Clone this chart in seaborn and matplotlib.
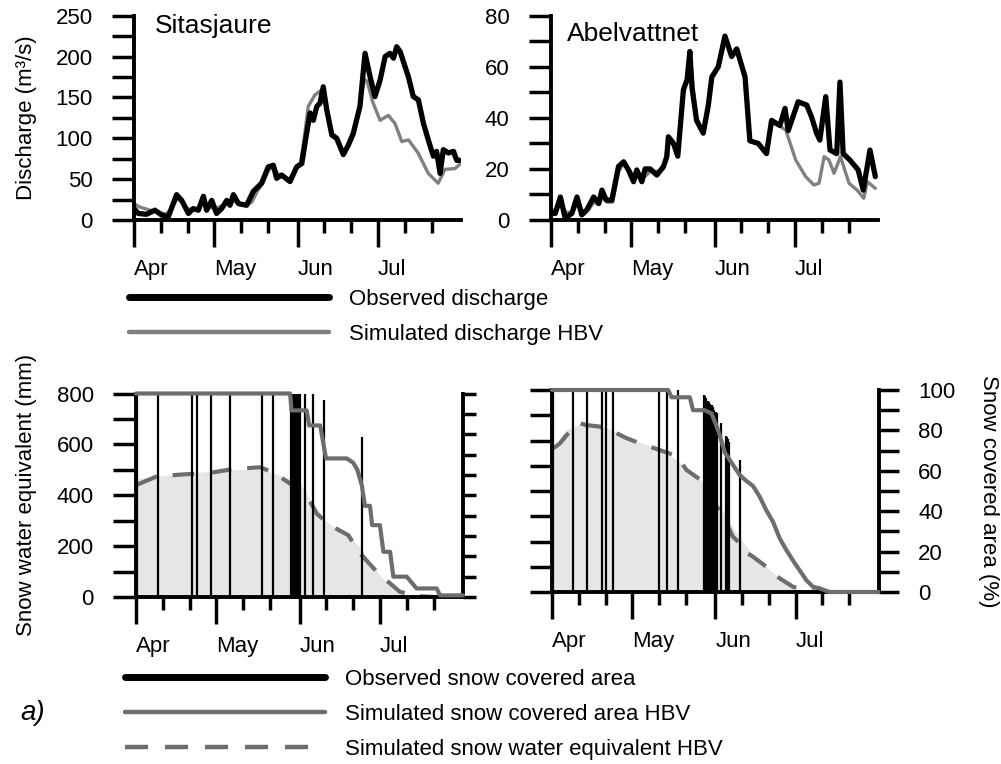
import matplotlib
matplotlib.use('Agg')
import matplotlib.pyplot as plt
import seaborn as sns
from matplotlib.lines import Line2D

# ---------------- data (days since 1 April) ----------------
month_days = [0, 30, 61, 91]
month_labels = ['Apr', 'May', 'Jun', 'Jul']
minor_days = [10, 20, 40, 50, 71, 81, 101, 111]

# Sitasjaure discharge (m3/s)
sit_obs_q_day = [0, 1.6, 4.7, 7.8, 10.3, 12.8, 15.9, 17.8, 20.3, 22.1, 24, 25.9, 27.1, 29, 30.8,
                 32.7, 34.6, 35.8, 37.1, 39, 42, 44.5, 47.6, 50.1, 52, 53.2, 55.1, 58.2, 60.7, 62.6,
                 64.4, 65.7, 66.9, 68.2, 69.4, 70.6, 71.9, 73.8, 75.6, 78.1, 80, 81.8, 84.3, 86.2,
                 88.1, 89.9, 91.8, 93.7, 95.5, 96.8, 98, 99.3, 101.1, 102.4, 104.2, 106.1, 108,
                 109.8, 111.7, 112.9, 114.2, 115.4, 117.3, 119.2, 120.4, 121.6]
sit_obs_q = [14, 8, 7, 12, 6, 4, 31, 24, 8, 14, 12, 29, 12, 24, 8,
             14, 24, 18, 31, 20, 18, 35, 45, 65, 67, 51, 55, 47, 65, 69,
             106, 131, 122, 139, 143, 163, 135, 104, 100, 80, 92, 106, 139, 204,
             175, 151, 171, 200, 204, 198, 212, 206, 188, 175, 151, 147, 118,
             98, 78, 84, 57, 86, 82, 84, 73, 73]
sit_sim_q_day = [0, 2, 4, 6, 9, 12, 14, 16, 18, 20, 22, 24, 26, 28, 30, 32, 34, 36, 38, 40,
                 42, 44, 46, 48, 50, 52, 54, 56, 58, 60, 62, 63.5, 65, 67.5, 69.5, 71, 72.5,
                 74, 76, 78, 80, 82, 84, 86, 87, 89, 91.8, 94.9, 97.4, 99.9, 102.4, 106,
                 109.8, 113.5, 116, 119.8, 121.5]
sit_sim_q = [20, 16, 14, 12, 10, 7, 14, 26, 22, 14, 12, 14, 22, 16, 14, 16, 20, 24, 22, 19,
             18, 22, 35, 45, 60, 66, 55, 52, 50, 60, 68, 100, 139, 153, 158, 150, 130,
             106, 100, 84, 90, 104, 138, 172, 170, 145, 122, 128, 118, 96, 98, 82,
             57, 45, 62, 63, 68]

# Abelvattnet discharge (m3/s)
abe_obs_q_day = [0, 1.6, 3.5, 5.3, 7.8, 9.7, 11.5, 13.4, 15.9, 17.8, 19, 20.6, 22.7, 25.2, 27.1,
                 28.9, 30.8, 32, 33.9, 35.1, 37, 39.5, 42, 43.2, 43.8, 45.7, 47.3, 49.4, 50.8,
                 51.8, 52.6, 54.3, 56.8, 58.7, 60, 62.4, 64.9, 67.4, 69.3, 72.4, 74.2, 77.3,
                 80.4, 82.3, 85.4, 87.3, 88.5, 92.2, 95.4, 97.2, 99.1, 100.3, 102.5, 104.1,
                 106.6, 107.8, 109, 111.5, 114.6, 116.5, 119, 121]
abe_obs_q = [2.6, 2.6, 9, 0.7, 2.6, 9, 2, 4, 9, 6.5, 11.7, 7.8, 7.8, 21, 22.8,
             19.6, 15, 19.6, 15, 20, 20, 17.6, 21, 24.8, 32.6, 30, 25, 51, 55,
             66, 52, 39, 34, 45, 56, 60, 72, 64, 67, 56, 31, 30,
             26, 39, 37, 43.7, 35, 46.3, 45, 40.4, 34, 31.3, 48.3, 27.4,
             26, 54, 26, 23.5, 19.6, 11.7, 27.4, 17]
abe_sim_q_day = [0, 2, 3.5, 5.5, 8, 10, 12, 14, 16, 18, 19, 21, 23, 25.2, 27.1, 29, 31, 33, 35,
                 37, 39.5, 42, 43.8, 45.7, 47.3, 49.4, 51, 52, 53, 54.3, 56.8, 58.7, 60, 62.4,
                 64.9, 67.4, 69.3, 72.4, 74.2, 77.3, 80.4, 82.3, 85, 87.6, 91.3, 95, 98.1, 100,
                 101.9, 103.7, 105.6, 108, 111.2, 114.2, 116.7, 118, 121]
abe_sim_q = [4, 4, 7, 3, 3, 7, 3, 4, 7, 6, 9, 7, 7, 19, 22, 20, 17, 18, 17,
             19, 19, 20, 30, 30, 25, 50, 56, 64, 52, 40, 34, 44, 56, 60,
             72, 65, 66, 56, 31, 30, 26, 38, 37, 35.2, 23.5, 17, 13.7, 14.4,
             24.8, 23.5, 18.3, 24.8, 14.4, 11.7, 8.5, 15, 12.4]

# Sitasjaure snow
sit_obs_sca_day = [0.3, 8.1, 21, 22.9, 27.9, 35.1, 47.1, 51.2, 57.7, 58.2, 58.7, 59.2, 59.7,
                   60.2, 60.7, 61.2, 63.1, 66.2, 70.1, 84.2]
sit_obs_sca = [100, 100, 100, 100, 100, 100, 100, 100, 100, 100, 100, 100, 100,
               100, 100, 100, 100, 100, 96.9, 78.6]
sit_sim_sca_day = [0, 57.5, 58, 63.7, 64.6, 68.7, 70.9, 78.6, 81, 82.5, 84.3, 85.4, 87.3, 88.1,
                   91, 92.3, 94.8, 96, 101, 104.7, 112.2, 113.4, 122]
sit_sim_sca = [100, 100, 91.7, 91.7, 84.3, 84.3, 68.1, 68.1, 66, 62.8, 54.6, 44.8, 44.8, 35.3,
               35.3, 22.2, 22.2, 10, 10, 4.2, 4.2, 0.8, 0.8]
sit_swe_day = [0.3, 7.7, 16.4, 22.6, 28.7, 36.3, 46.3, 51.2, 61.2, 63.7, 67.4, 72.4, 79.2, 83.6,
               90.4, 98.5, 106, 110.8, 121.6]
sit_swe = [441, 474, 481, 485, 490, 503, 510, 490, 420, 400, 328, 282, 243, 171,
           93, 20, 3, 0, 0]
sit_fill_day = [0, 8, 20, 36, 46.3, 51.2, 56, 61.2, 64.9, 71.2, 78.6, 83.6, 88.5, 93, 97.3, 101, 104]
sit_fill = [465, 475, 488, 500, 503, 487, 470, 448, 385, 295, 245, 197, 119, 60, 27, 4, 0]

# Abelvattnet snow
abe_obs_sca_day = [0.5, 7.9, 12.9, 18.8, 20.1, 22.9, 40, 42.8, 47.1, 56.7, 57.2, 57.7, 58.2,
                   58.7, 59.2, 59.7, 60.2, 60.7, 61.2, 61.7, 63.1, 64.9, 65.4, 65.9, 66.2, 70.1]
abe_obs_sca = [100, 100, 100, 100, 100, 100, 100, 100, 100, 97.5, 97, 96, 94.7,
               94, 93, 92.6, 91.5, 90, 89, 88.4, 83.5, 77.2, 76.5, 75.5, 74.4, 65.3]
abe_sim_sca_day = [0, 43.4, 44.7, 51.5, 52.7, 57.1, 59.6, 62.1, 64.6, 67.6, 70.1, 72.6, 75.1,
                   77.6, 80.1, 82.6, 85.1, 87.6, 90, 92.5, 95, 97.5, 100, 103.7, 122]
abe_sim_sca = [100, 100, 96.4, 96.4, 90, 90, 88.4, 80, 69, 63, 58, 55, 52.5,
               47.2, 40.4, 34.7, 26.5, 20.7, 15.7, 10.8, 5.9, 2.6, 1.8, 0, 0]
abe_swe_day = [0.5, 3, 5.5, 10.4, 12.9, 17.9, 22.9, 27.9, 32.8, 38.4, 46.5, 50.3, 56.5, 61.5,
               64.6, 67.6, 70.1, 72, 75.1, 80.1, 85.1, 90, 95, 100, 104]
abe_swe = [569, 589, 622, 668, 661, 655, 635, 609, 589, 569, 539, 483, 437, 338,
           285, 219, 193, 160, 140, 100, 54, 21, 5, 0, 0]
abe_fill_day = [0.5, 5, 10, 15, 20, 25, 30, 35, 40, 45, 50, 55, 60, 65, 70, 75, 80, 85, 90, 95, 100]
abe_fill = [575, 640, 665, 662, 650, 630, 605, 585, 560, 535, 495, 450, 380, 300, 215, 150,
            100, 55, 20, 5, 0]

# ---------------- style ----------------
sns.set_theme(style='ticks', rc={
    'axes.edgecolor': 'black', 'xtick.color': 'black', 'ytick.color': 'black',
    'text.color': 'black', 'axes.labelcolor': 'black', 'axes.linewidth': 2.8,
})
plt.rcParams['font.family'] = ['Liberation Sans', 'DejaVu Sans']

W, H = 1001, 764
fig = plt.figure(figsize=(W / 100, H / 100), dpi=100)

FS = 16
SIM_Q = '#808080'
SIM_S = '#6d6d6d'
FILL = '#e6e6e6'


def add_ax(left, right, top, bottom):
    return fig.add_axes([left / W, 1 - bottom / H, (right - left) / W, (bottom - top) / H])


def style_x(ax):
    ax.set_xlim(0, 122)
    ax.set_xticks(month_days)
    ax.set_xticklabels(month_labels, ha='left', fontsize=FS)
    ax.set_xticks(minor_days, minor=True)
    ax.tick_params(axis='x', which='major', length=19.5, width=2.5, pad=8.5)
    ax.tick_params(axis='x', which='minor', length=9.5, width=2.5)
    ax.set_xlabel('')


def style_y(ax, major, minor, length, labels=True, side='left'):
    ax.set_yticks(major)
    ax.set_yticks(minor, minor=True)
    kw = dict(axis='y', which='both', length=length, width=2.5, pad=14, labelsize=FS)
    if side == 'left':
        kw.update(left=True, right=False, labelleft=labels, labelright=False)
    else:
        kw.update(left=False, right=True, labelright=labels, labelleft=False)
    ax.tick_params(**kw)


def discharge_panel(ax, od, ov, sd, sv, ymax, major, minor, title, tx, ty):
    sns.lineplot(x=sd, y=sv, ax=ax, color=SIM_Q, lw=2.4, estimator=None, sort=False)
    sns.lineplot(x=od, y=ov, ax=ax, color='black', lw=3.8, estimator=None, sort=False)
    ax.set_ylim(0, ymax)
    style_x(ax)
    style_y(ax, major, minor, 15.8)
    for s in ['top', 'right']:
        ax.spines[s].set_visible(False)
    ax.text(tx, ty, title, transform=ax.transAxes, fontsize=19, va='baseline', ha='left')
    ax.set_ylabel('')


def snow_panel(ax, fd, fv, wd, wv, od, ov, sd, sv, left_labels, ltick, rtick):
    ax.fill_between(fd, fv, color=FILL, lw=0, zorder=1)
    sns.lineplot(x=wd, y=wv, ax=ax, color=SIM_S, lw=3.0, linestyle=(0, (5.2, 3.8)),
                 estimator=None, sort=False, zorder=2)
    ax.set_ylim(0, 800)
    axr = ax.twinx()
    axr.vlines(od, 0, ov, color='black', lw=1.6, zorder=2)
    sns.lineplot(x=sd, y=sv, ax=axr, color=SIM_S, lw=3.0, estimator=None, sort=False,
                 zorder=3, clip_on=False)
    axr.set_ylim(0, 100)
    style_x(ax)
    style_y(ax, [0, 200, 400, 600, 800], [100, 300, 500, 700], ltick, labels=left_labels)
    style_y(axr, [0, 20, 40, 60, 80, 100], [10, 30, 50, 70, 90], rtick,
            labels=not left_labels, side='right')
    ax.spines['top'].set_visible(False)
    ax.spines['right'].set_visible(False)
    for s in ['top', 'left', 'bottom']:
        axr.spines[s].set_visible(False)
    ax.set_ylabel('')
    axr.set_ylabel('')
    return axr


# ---------------- top panels ----------------
ax1 = add_ax(134, 461, 15.7, 220)
discharge_panel(ax1, sit_obs_q_day, sit_obs_q, sit_sim_q_day, sit_sim_q, 250,
                [0, 50, 100, 150, 200, 250], [25, 75, 125, 175, 225], 'Sitasjaure', 0.064, 0.915)
ax1.set_ylabel('Discharge (m³/s)', fontsize=FS)
ax1.yaxis.set_label_coords(-0.296, 0.5)

ax2 = add_ax(551, 878, 15.7, 220)
discharge_panel(ax2, abe_obs_q_day, abe_obs_q, abe_sim_q_day, abe_sim_q, 80,
                [0, 20, 40, 60, 80], [10, 30, 50, 70], 'Abelvattnet', 0.049, 0.876)

# ---------------- bottom panels ----------------
ax3 = add_ax(136, 463, 393.5, 597)
ax3r = snow_panel(ax3, sit_fill_day, sit_fill, sit_swe_day, sit_swe, sit_obs_sca_day, sit_obs_sca,
                  sit_sim_sca_day, sit_sim_sca, True, 16.5, 9)
ax3.set_ylabel('Snow water equivalent (mm)', fontsize=FS)
ax3.yaxis.set_label_coords(-0.303, 0.5)

ax4 = add_ax(552, 878.5, 390, 592)
ax4r = snow_panel(ax4, abe_fill_day, abe_fill, abe_swe_day, abe_swe, abe_obs_sca_day, abe_obs_sca,
                  abe_sim_sca_day, abe_sim_sca, False, 16, 14.5)
ax4r.set_ylabel('Snow covered area (%)', fontsize=FS, rotation=270)
ax4r.yaxis.set_label_coords(1.368, 0.5)

# ---------------- legends ----------------
h_obs = Line2D([], [], color='black', lw=5)
h_simq = Line2D([], [], color=SIM_Q, lw=3.2)
fig.legend([h_obs, h_simq], ['Observed discharge', 'Simulated discharge HBV'],
           loc='upper left', bbox_to_anchor=(129 / W, 1 - 289 / H), frameon=False,
           fontsize=FS, handlelength=9.0, handletextpad=0.9, labelspacing=0.64,
           borderpad=0, borderaxespad=0)

h_obs2 = Line2D([], [], color='black', lw=5)
h_sims = Line2D([], [], color=SIM_S, lw=3.2)
h_swe = Line2D([], [], color=SIM_S, lw=3.2, linestyle=(0, (5.2, 3.8)))
fig.legend([h_obs2, h_sims, h_swe],
           ['Observed snow covered area', 'Simulated snow covered area HBV',
            'Simulated snow water equivalent HBV'],
           loc='upper left', bbox_to_anchor=(125 / W, 1 - 669 / H), frameon=False,
           fontsize=FS, handlelength=9.0, handletextpad=0.9, labelspacing=0.63,
           borderpad=0, borderaxespad=0)

fig.text(20 / W, 1 - 713 / H, 'a)', fontsize=20, style='italic', va='center', ha='left')

fig.savefig('out.png', dpi=100)
